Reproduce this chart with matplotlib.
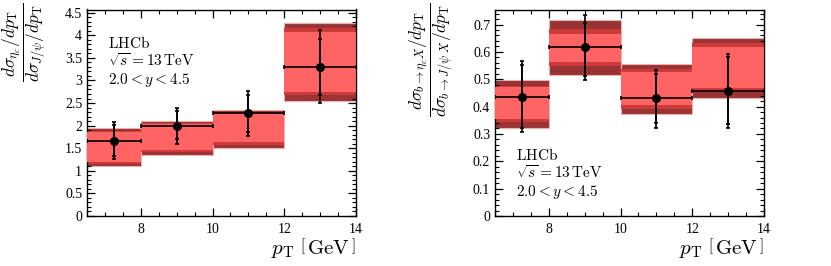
import matplotlib
matplotlib.use("Agg")
import matplotlib.pyplot as plt
from matplotlib.ticker import MultipleLocator

plt.rcParams['font.family'] = ['Liberation Serif', 'DejaVu Serif']
plt.rcParams['mathtext.fontset'] = 'cm'

# ---- data ----
bin_lo = [6.5, 8, 10, 12]
bin_hi = [8, 10, 12, 14]
x_pts = [7.25, 9, 11, 13]

# left panel: eta_c / J/psi prompt
L_y = [1.67, 2.00, 2.27, 3.30]
L_stat_lo = [1.33, 1.70, 1.87, 2.68]
L_stat_hi = [2.02, 2.32, 2.68, 3.92]
L_tot_lo = [1.27, 1.60, 1.77, 2.49]
L_tot_hi = [2.09, 2.40, 2.77, 4.11]
L_outer_lo = [1.11, 1.35, 1.51, 2.54]
L_outer_hi = [1.94, 2.11, 2.34, 4.265]
L_mid_lo = [1.16, 1.42, 1.58, 2.68]
L_mid_hi = [1.89, 2.05, 2.30, 4.17]
L_inner_lo = [1.19, 1.46, 1.63, 2.74]
L_inner_hi = [1.87, 2.03, 2.28, 4.08]

# right panel: from b decays
R_y = [0.436, 0.617, 0.430, 0.456]
R_stat_lo = [0.320, 0.512, 0.340, 0.335]
R_stat_hi = [0.553, 0.705, 0.520, 0.581]
R_tot_lo = [0.307, 0.499, 0.323, 0.320]
R_tot_hi = [0.565, 0.734, 0.535, 0.593]
R_outer_lo = [0.322, 0.514, 0.374, 0.433]
R_outer_hi = [0.496, 0.717, 0.556, 0.651]
R_mid_lo = [0.344, 0.548, 0.393, 0.453]
R_mid_hi = [0.477, 0.682, 0.536, 0.632]
R_inner_lo = [0.356, 0.563, 0.405, 0.469]
R_inner_hi = [0.470, 0.666, 0.526, 0.617]

L_yticks = [0, 0.5, 1, 1.5, 2, 2.5, 3, 3.5, 4, 4.5]
L_yticklabels = ['0', '0.5', '1', '1.5', '2', '2.5', '3', '3.5', '4', '4.5']
R_yticks = [0, 0.1, 0.2, 0.3, 0.4, 0.5, 0.6, 0.7]
R_yticklabels = ['0', '0.1', '0.2', '0.3', '0.4', '0.5', '0.6', '0.7']

fig = plt.figure(figsize=(8.31, 2.66), dpi=100)
axL = fig.add_axes([87/831, 50/266, 269/831, 206.5/266])
axR = fig.add_axes([495/831, 50/266, 269/831, 206.5/266])

C_DARK = '#9a3333'
C_MID = '#cc3a3a'
C_LIGHT = '#ff6464'


def draw(ax, y, slo, shi, tlo, thi, olo, ohi, mlo, mhi, ilo, ihi):
    for i in range(len(bin_lo)):
        w = bin_hi[i] - bin_lo[i]
        ax.bar(bin_lo[i], ohi[i] - olo[i], width=w, bottom=olo[i], align='edge',
               color=C_DARK, edgecolor='#f0b0b0', linewidth=0.8, zorder=1)
        ax.bar(bin_lo[i], mhi[i] - mlo[i], width=w, bottom=mlo[i], align='edge',
               color=C_MID, linewidth=0, zorder=2)
        ax.bar(bin_lo[i], ihi[i] - ilo[i], width=w, bottom=ilo[i], align='edge',
               color=C_LIGHT, linewidth=0, zorder=3)
    xerr_lo = [x_pts[i] - bin_lo[i] for i in range(4)]
    xerr_hi = [bin_hi[i] - x_pts[i] for i in range(4)]
    terr = [[y[i] - tlo[i] for i in range(4)], [thi[i] - y[i] for i in range(4)]]
    serr = [[y[i] - slo[i] for i in range(4)], [shi[i] - y[i] for i in range(4)]]
    ax.errorbar(x_pts, y, yerr=terr, fmt='none', ecolor='black', elinewidth=1.2,
                capsize=1.5, capthick=1.2, zorder=5)
    ax.errorbar(x_pts, y, yerr=serr, xerr=[xerr_lo, xerr_hi], fmt='o', color='black',
                markersize=5.5, elinewidth=1.2, capsize=1.5, capthick=1.2, zorder=6)
    ax.set_xlim(6.5, 14)
    ax.xaxis.set_major_locator(MultipleLocator(2))
    ax.xaxis.set_minor_locator(MultipleLocator(0.5))
    ax.tick_params(which='both', direction='in', top=True, right=True, labelsize=10)
    ax.tick_params(which='major', length=6, width=0.9)
    ax.tick_params(which='minor', length=3, width=0.8)
    ax.tick_params(axis='x', pad=5)
    for s in ax.spines.values():
        s.set_linewidth(1.0)
    ax.set_xlabel(r'$p_{\mathrm{T}}\ \left[\,\mathrm{GeV}\,\right]$', fontsize=15,
                  loc='right', labelpad=0)


draw(axL, L_y, L_stat_lo, L_stat_hi, L_tot_lo, L_tot_hi, L_outer_lo, L_outer_hi,
     L_mid_lo, L_mid_hi, L_inner_lo, L_inner_hi)
draw(axR, R_y, R_stat_lo, R_stat_hi, R_tot_lo, R_tot_hi, R_outer_lo, R_outer_hi,
     R_mid_lo, R_mid_hi, R_inner_lo, R_inner_hi)

axL.set_ylim(0, 4.57)
axL.yaxis.set_minor_locator(MultipleLocator(0.1))
axL.set_yticks(L_yticks)
axL.set_yticklabels(L_yticklabels)

axR.set_ylim(0, 0.755)
axR.yaxis.set_minor_locator(MultipleLocator(0.02))
axR.set_yticks(R_yticks)
axR.set_yticklabels(R_yticklabels)

fig.text(24/831, 1 - 3/266,
         r'$\dfrac{d\sigma_{\eta_c}/dp_{\mathrm{T}}}{d\sigma_{J/\psi}/dp_{\mathrm{T}}}$',
         rotation=90, ha='center', va='top', fontsize=12.5)
fig.text(431/831, 1 - 3/266,
         r'$\dfrac{d\sigma_{b\rightarrow\eta_c X}/dp_{\mathrm{T}}}{d\sigma_{b\rightarrow J/\psi\ X}/dp_{\mathrm{T}}}$',
         rotation=90, ha='center', va='top', fontsize=12.5)

for tx, ty in [(108, 35), (516, 147)]:
    fig.text(tx/831, 1 - ty/266, r'$\mathrm{LHCb}$', fontsize=11, va='top', ha='left')
    fig.text(tx/831, 1 - (ty + 17)/266, r'$\sqrt{s}=13\,\mathrm{TeV}$', fontsize=11,
             va='top', ha='left')
    fig.text(tx/831, 1 - (ty + 36)/266, r'$2.0<y<4.5$', fontsize=11, va='top', ha='left')

fig.savefig('out.png', dpi=100)
